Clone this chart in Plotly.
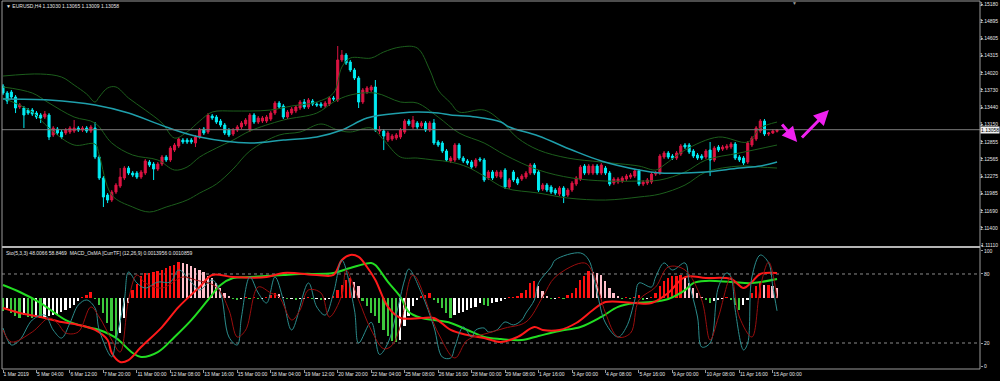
import plotly.graph_objects as go

# ---------------- data ----------------
tick_idx = [0, 8, 16, 24, 32, 40, 48, 56, 64, 72, 80, 88, 96, 104, 112, 120, 128, 136, 144, 152, 160, 168, 176, 184]
tick_text = ["1 Mar 2019", "5 Mar 04:00", "6 Mar 12:00", "7 Mar 20:00", "11 Mar 00:00", "12 Mar 08:00",
             "13 Mar 16:00", "15 Mar 00:00", "18 Mar 04:00", "19 Mar 12:00", "20 Mar 20:00", "22 Mar 04:00",
             "25 Mar 08:00", "26 Mar 16:00", "28 Mar 00:00", "29 Mar 08:00", "1 Apr 16:00", "3 Apr 00:00",
             "4 Apr 08:00", "5 Apr 16:00", "9 Apr 00:00", "10 Apr 08:00", "11 Apr 16:00", "15 Apr 00:00"]
price_ticks = [1.15180, 1.14895, 1.14605, 1.14315, 1.14020, 1.13730, 1.13440, 1.13150,
               1.12855, 1.12565, 1.12275, 1.11985, 1.11690, 1.11400, 1.11110]
sto_ticks = [0, 20, 80, 100]
last_price = 1.13058

open_ = [
1.13795,1.13677,1.13694,1.13610,1.13441,1.13424,1.13390,1.13390,1.13339,1.13306,
1.13272,1.13306,1.12968,1.13069,1.13019,1.13002,1.13019,1.13035,1.13086,1.13052,
1.13086,1.13035,1.13086,1.12596,1.12242,1.11954,1.11870,1.12005,1.12106,1.12242,
1.12410,1.12326,1.12326,1.12258,1.12326,1.12512,1.12478,1.12394,1.12478,1.12596,
1.12546,1.12714,1.12782,1.12883,1.12883,1.12883,1.12833,1.12934,1.13069,1.13019,
1.13289,1.13272,1.13204,1.13137,1.13052,1.12985,1.13052,1.13103,1.13154,1.13052,
1.13306,1.13187,1.13204,1.13204,1.13238,1.13339,1.13508,1.13458,1.13272,1.13339,
1.13373,1.13424,1.13525,1.13441,1.13542,1.13491,1.13491,1.13458,1.13491,1.13593,
1.13559,1.14235,1.14319,1.14201,1.14066,1.13931,1.13525,1.13694,1.13728,1.13779,
1.13035,1.13035,1.12883,1.12900,1.12917,1.12934,1.13019,1.13204,1.13103,1.13171,
1.13120,1.13171,1.13052,1.13171,1.12850,1.12833,1.12698,1.12529,1.12546,1.12799,
1.12579,1.12529,1.12512,1.12444,1.12562,1.12546,1.12242,1.12343,1.12275,1.12258,
1.12377,1.12090,1.12343,1.12225,1.12225,1.12258,1.12326,1.12461,1.12343,1.12056,
1.12123,1.12090,1.12039,1.11971,1.12073,1.11954,1.12039,1.12140,1.12225,1.12444,
1.12326,1.12326,1.12444,1.12326,1.12410,1.12326,1.12157,1.12174,1.12191,1.12225,
1.12258,1.12275,1.12360,1.12140,1.12157,1.12174,1.12309,1.12326,1.12596,1.12664,
1.12613,1.12579,1.12647,1.12799,1.12799,1.12698,1.12630,1.12613,1.12596,1.12714,
1.12546,1.12765,1.12731,1.12748,1.12765,1.12816,1.12596,1.12579,1.12512,1.12799,
1.12900,1.13035,1.13204,1.12985,1.13002,1.13030]
close = [
1.13677,1.13542,1.13610,1.13424,1.13475,1.13306,1.13339,1.13323,1.13272,1.13255,
1.13323,1.12934,1.13086,1.13002,1.12934,1.13052,1.13086,1.13086,1.13052,1.13086,
1.13035,1.13103,1.12596,1.12242,1.11921,1.11870,1.12005,1.12123,1.12258,1.12410,
1.12326,1.12292,1.12258,1.12343,1.12529,1.12461,1.12394,1.12478,1.12596,1.12546,
1.12748,1.12799,1.12900,1.12850,1.12850,1.12850,1.12934,1.13052,1.13002,1.13306,
1.13255,1.13187,1.13137,1.13002,1.12968,1.13052,1.13103,1.13171,1.13221,1.13306,
1.13187,1.13255,1.13255,1.13272,1.13339,1.13508,1.13441,1.13272,1.13356,1.13407,
1.13441,1.13525,1.13441,1.13559,1.13491,1.13475,1.13458,1.13508,1.13593,1.13576,
1.14235,1.14319,1.14184,1.14066,1.13931,1.13525,1.13728,1.13762,1.13779,1.13052,
1.13052,1.12951,1.13002,1.12951,1.12968,1.13052,1.13204,1.13154,1.13221,1.13103,
1.13171,1.13052,1.13171,1.12833,1.12799,1.12698,1.12546,1.12579,1.12799,1.12579,
1.12529,1.12495,1.12427,1.12546,1.12546,1.12208,1.12343,1.12242,1.12343,1.12343,
1.12090,1.12208,1.12208,1.12157,1.12275,1.12326,1.12461,1.12326,1.12039,1.12123,
1.12039,1.12005,1.11988,1.12073,1.11938,1.12039,1.12157,1.12242,1.12427,1.12326,
1.12444,1.12444,1.12326,1.12461,1.12326,1.12140,1.12225,1.12225,1.12242,1.12275,
1.12292,1.12360,1.12140,1.12174,1.12208,1.12309,1.12326,1.12613,1.12664,1.12596,
1.12579,1.12664,1.12782,1.12765,1.12681,1.12613,1.12579,1.12579,1.12698,1.12546,
1.12748,1.12714,1.12765,1.12782,1.12816,1.12579,1.12546,1.12495,1.12833,1.12917,
1.13086,1.13204,1.12985,1.13002,1.13035,1.13058]
high = [
1.13829,1.13711,1.13728,1.13643,1.13508,1.13458,1.13424,1.13424,1.13373,1.13339,
1.13373,1.13339,1.13120,1.13103,1.13052,1.13086,1.13120,1.13221,1.13120,1.13120,
1.13120,1.13137,1.13187,1.12630,1.12275,1.11988,1.12039,1.12157,1.12410,1.12444,
1.12444,1.12360,1.12360,1.12377,1.12562,1.12546,1.12512,1.12512,1.12630,1.12630,
1.12782,1.12833,1.12934,1.12917,1.12917,1.12917,1.12968,1.13086,1.13103,1.13339,
1.13323,1.13306,1.13238,1.13171,1.13086,1.13086,1.13137,1.13204,1.13255,1.13339,
1.13339,1.13289,1.13289,1.13306,1.13373,1.13542,1.13542,1.13491,1.13390,1.13441,
1.13475,1.13559,1.13576,1.13593,1.13576,1.13525,1.13525,1.13542,1.13627,1.13627,
1.14471,1.14403,1.14353,1.14235,1.14099,1.13964,1.13762,1.13795,1.13812,1.13897,
1.13120,1.13069,1.13035,1.12985,1.13002,1.13086,1.13238,1.13238,1.13289,1.13204,
1.13204,1.13204,1.13204,1.13238,1.12883,1.12866,1.12731,1.12613,1.12833,1.12833,
1.12613,1.12562,1.12546,1.12579,1.12596,1.12579,1.12377,1.12377,1.12377,1.12377,
1.12410,1.12242,1.12377,1.12258,1.12309,1.12360,1.12495,1.12495,1.12377,1.12157,
1.12157,1.12123,1.12073,1.12106,1.12106,1.12073,1.12191,1.12275,1.12461,1.12478,
1.12478,1.12478,1.12478,1.12495,1.12444,1.12360,1.12258,1.12258,1.12275,1.12309,
1.12326,1.12394,1.12394,1.12208,1.12242,1.12343,1.12360,1.12647,1.12698,1.12698,
1.12647,1.12698,1.12816,1.12833,1.12833,1.12731,1.12664,1.12647,1.12731,1.12850,
1.12782,1.12799,1.12799,1.12816,1.12850,1.12850,1.12630,1.12613,1.12866,1.12951,
1.13120,1.13238,1.13238,1.13019,1.13069,1.13065]
low = [
1.13643,1.13491,1.13576,1.13339,1.13407,1.13086,1.13306,1.13289,1.13238,1.13171,
1.13238,1.12883,1.12934,1.12968,1.12900,1.12968,1.12985,1.13002,1.13019,1.13019,
1.13002,1.13002,1.12562,1.12208,1.11752,1.11819,1.11836,1.11971,1.12073,1.12208,
1.12292,1.12258,1.12225,1.12225,1.12292,1.12427,1.12208,1.12360,1.12444,1.12512,
1.12512,1.12681,1.12748,1.12816,1.12816,1.12816,1.12765,1.12900,1.12968,1.12985,
1.13221,1.13154,1.13103,1.12968,1.12934,1.12951,1.13019,1.13069,1.13120,1.13019,
1.13154,1.13154,1.13171,1.13171,1.13204,1.13306,1.13407,1.13238,1.13238,1.13306,
1.13339,1.13390,1.13407,1.13407,1.13458,1.13441,1.13424,1.13424,1.13458,1.13542,
1.13525,1.14201,1.14150,1.14032,1.13897,1.13424,1.13491,1.13660,1.13694,1.13019,
1.12985,1.12714,1.12850,1.12866,1.12883,1.12900,1.12985,1.13120,1.13069,1.13069,
1.13086,1.13019,1.13019,1.12799,1.12765,1.12664,1.12512,1.12495,1.12512,1.12546,
1.12495,1.12461,1.12394,1.12410,1.12512,1.12174,1.12208,1.12208,1.12242,1.12225,
1.12056,1.12056,1.12174,1.12123,1.12191,1.12225,1.12292,1.12292,1.12005,1.12022,
1.12005,1.11971,1.11954,1.11938,1.11819,1.11921,1.12005,1.12106,1.12191,1.12292,
1.12292,1.12292,1.12292,1.12292,1.12292,1.12106,1.12123,1.12140,1.12157,1.12191,
1.12225,1.12242,1.12106,1.12106,1.12123,1.12140,1.12275,1.12292,1.12562,1.12562,
1.12546,1.12546,1.12613,1.12731,1.12647,1.12579,1.12546,1.12546,1.12562,1.12275,
1.12512,1.12681,1.12698,1.12714,1.12731,1.12546,1.12512,1.12461,1.12478,1.12765,
1.12866,1.13002,1.12951,1.12951,1.12985,1.13009]

# Bollinger bands and long MA (read at selected bars)
bb_up_idx = [0,9,14,17,20,22,23,25,27,30,34,38,41,44,47,50,55,59,64,69,75,79,81,83,88,91,95,99,102,104,107,109,115,119,123,128,135,143,152,156,158,163,171,178,181,185]
bb_up = [1.13964,1.13998,1.13947,1.13812,1.13660,1.13525,1.13610,1.13762,1.13779,1.13593,1.13390,1.13171,1.12917,1.13019,1.13204,1.13356,1.13373,1.13373,1.13390,1.13458,1.13525,1.13677,1.14116,1.14268,1.14268,1.14370,1.14454,1.14437,1.14066,1.13728,1.13508,1.13356,1.13390,1.13204,1.12917,1.12714,1.12579,1.12512,1.12444,1.12377,1.12461,1.12714,1.12934,1.12850,1.13086,1.13187]
bb_mid_idx = [0,7,11,17,22,26,31,37,41,44,47,51,55,59,67,75,79,83,89,95,99,104,109,115,120,128,136,144,152,157,163,168,176,185]
bb_mid = [1.13779,1.13677,1.13508,1.13272,1.13171,1.12833,1.12630,1.12546,1.12377,1.12427,1.12596,1.12748,1.12883,1.13035,1.13221,1.13339,1.13525,1.13643,1.13677,1.13525,1.13508,1.13272,1.13002,1.12833,1.12630,1.12377,1.12242,1.12191,1.12191,1.12208,1.12343,1.12546,1.12664,1.12799]
bb_lo_idx = [0,7,11,17,22,23,26,31,35,39,44,47,51,55,59,66,71,76,80,83,88,91,95,99,103,107,111,115,120,128,135,144,152,157,163,168,176,181,185]
bb_lo = [1.13593,1.13356,1.13086,1.12799,1.12816,1.12630,1.11954,1.11752,1.11668,1.11752,1.11870,1.11988,1.12140,1.12394,1.12698,1.12968,1.13019,1.13154,1.13052,1.13019,1.13086,1.12883,1.12596,1.12579,1.12546,1.12512,1.12427,1.12275,1.12073,1.11988,1.11904,1.11870,1.11921,1.11971,1.12123,1.12343,1.12444,1.12427,1.12410]
ma_idx = [0,11,22,30,39,47,59,67,75,81,87,95,99,104,107,113,119,121,128,136,143,152,157,163,168,176,181,185]
ma = [1.13576,1.13559,1.13475,1.13339,1.13103,1.12934,1.12833,1.12883,1.12934,1.13052,1.13255,1.13339,1.13356,1.13339,1.13306,1.13272,1.13187,1.13103,1.12951,1.12714,1.12529,1.12377,1.12326,1.12326,1.12343,1.12410,1.12444,1.12512]

# Stochastic (5,3,3)
sto_main_idx = [0,2,4,7,10,12,14,16,18,20, 22,23,26,27,29,30,32,34,37,40, 42,45,47,50,52,54,56,57,59,61,
                63,65,67,69,73,75,77,79,81,84, 85,88,90,92,94,96,97,100,103,105, 107,108,110,112,113,115,116,118,120,122,
                124,125,127,128,131,132,138,140,142,144, 147,149,151,152,155,156,158,160,163,164,
                166,167,169,171,173,174,175,177,178,179, 181,183,184,185]
sto_main = [33.0,18.3,22.6,40.0,44.3,31.3,24.3,37.4,53.0,57.4, 50.4,31.3,8.0,22.6,57.4,81.7,72.2,67.8,73.0,73.0,
            83.5,73.0,66.1,74.8,63.5,25.2,18.3,42.6,77.4,63.5, 54.8,77.4,57.4,31.3,72.2,51.3,44.3,63.5,92.0,48.7,
            20.0,38.0,10.0,20.0,45.0,75.0,84.3,63.5,33.9,7.8, 7.0,16.5,33.9,25.2,31.3,33.0,29.6,31.3,38.3,35.7,
            40.0,46.1,57.4,72.2,86.1,92.2,98.3,92.2,63.5,37.4, 25.2,33.9,57.4,72.2,68.7,77.4,89.6,83.5,89.6,72.2,
            42.6,16.5,20.0,68.7,80.9,77.4,48.7,13.9,20.0,77.4, 96.5,89.6,68.7,48.0066]
sto_sig_idx = [0,2,7,11,13,15,18,21,23,26, 28,30,32,34,38,43,46,51,54,56, 58,61,64,66,69,71,73,76,78,81,
               82,85,88,91,93,95,98,104,108,111, 116,120,125,129,132,139,141,144,147,150,
               152,156,159,163,167,169,171,174,176,179, 181,183,185]
sto_sig = [31.3,20.9,29.6,41.7,37.4,28.7,29.6,51.3,42.6,22.6, 12.2,57.4,79.1,72.2,67.8,77.4,74.8,68.7,48.7,25.2,
           31.3,68.7,63.5,60.0,40.0,48.7,66.1,63.5,42.6,61.7, 83.5,57.4,31.3,15.0,18.0,35.0,79.1,28.7,7.0,22.6,
           28.7,33.0,38.3,60.0,77.4,89.6,80.9,46.1,25.2,28.7, 57.4,68.7,86.1,83.5,57.4,22.6,42.6,77.4,42.6,25.2,
           68.7,90.4,58.8469]

# MACD OsMA (12,26,9)
osma = [
-0.00067,-0.00052,-0.00077,-0.00093,-0.00103,-0.00088,-0.00098,-0.00103,-0.00098,-0.00103,
-0.00098,-0.00093,-0.00088,-0.00083,-0.00072,-0.00062,-0.00052,-0.00036,-0.00015,0.00005,
0.00015,0.00031,-0.00005,-0.00036,-0.00077,-0.00129,-0.00170,-0.00206,-0.00181,-0.00103,
-0.00026,0.00041,0.00072,0.00114,0.00129,0.00129,0.00134,0.00139,0.00144,0.00155,
0.00165,0.00170,0.00186,0.00181,0.00175,0.00165,0.00155,0.00144,0.00134,0.00114,
0.00103,0.00077,0.00052,0.00026,0.00010,-0.00005,-0.00010,-0.00005,0.00003,-0.00005,
0.00005,-0.00005,-0.00003,0.00005,0.00015,0.00026,0.00021,0.00005,-0.00005,-0.00005,
-0.00008,-0.00005,-0.00005,0.00003,-0.00005,-0.00005,-0.00010,-0.00010,-0.00005,0.00010,
0.00041,0.00067,0.00093,0.00103,0.00083,0.00062,-0.00015,-0.00041,-0.00077,-0.00093,
-0.00129,-0.00165,-0.00196,-0.00222,-0.00227,-0.00217,-0.00144,-0.00093,-0.00041,-0.00010,
0.00010,0.00015,0.00026,-0.00010,-0.00026,-0.00052,-0.00077,-0.00103,-0.00088,-0.00077,
-0.00072,-0.00062,-0.00052,-0.00046,-0.00026,-0.00036,-0.00041,-0.00026,-0.00021,-0.00015,
-0.00005,0.00003,0.00003,0.00010,0.00026,0.00041,0.00077,0.00088,0.00062,0.00036,
0.00010,-0.00005,-0.00005,0.00003,-0.00005,0.00015,0.00026,0.00052,0.00093,0.00114,
0.00139,0.00134,0.00129,0.00119,0.00088,0.00052,0.00026,0.00010,-0.00005,0.00005,
-0.00005,0.00003,0.00015,-0.00010,-0.00005,0.00003,0.00026,0.00062,0.00088,0.00103,
0.00114,0.00116,0.00119,0.00103,0.00077,0.00052,0.00026,0.00005,-0.00010,-0.00026,
-0.00015,-0.00010,-0.00005,0.00005,-0.00010,-0.00036,-0.00062,-0.00036,-0.00010,0.00026,
0.00062,0.00077,0.00067,0.00067,0.00062,0.00052]
macd_r_idx = [0,4,9,14,18,22,25,26,28,30,33,38,42,47,50,55,63,67,75,79,81,83,85,87,89,92,95,100,103,107,
              111,115,119,123,127,129,133,137,141,144,151,155,159,163,168,174,177,179,181,185]
macd_r = [-0.00052,-0.00077,-0.00098,-0.00124,-0.00139,-0.00165,-0.00217,-0.00284,-0.00330,-0.00320,
          -0.00253,-0.00150,-0.00046,0.00057,0.00119,0.00108,0.00108,0.00129,0.00119,0.00119,
          0.00196,0.00222,0.00212,0.00160,0.00093,-0.00046,-0.00103,-0.00103,-0.00103,-0.00165,
          -0.00191,-0.00206,-0.00227,-0.00201,-0.00150,-0.00165,-0.00165,-0.00129,-0.00062,-0.00021,
          -0.00026,-0.00026,0.00026,0.00108,0.00103,0.00098,0.00052,0.00083,0.00124,0.00129]
macd_g_idx = [0,4,9,15,20,23,27,31,33,37,41,45,49,52,55,59,67,71,79,83,88,89,92,95,97,100,103,107,111,115,
              119,124,128,133,138,143,147,151,155,159,163,165,168,174,179,185]
macd_g = [0.00067,0.00031,-0.00026,-0.00114,-0.00150,-0.00165,-0.00206,-0.00284,-0.00304,-0.00279,
          -0.00201,-0.00114,-0.00010,0.00067,0.00103,0.00108,0.00119,0.00124,0.00129,0.00155,
          0.00181,0.00170,0.00083,0.00005,-0.00072,-0.00103,-0.00114,-0.00129,-0.00165,-0.00201,
          -0.00212,-0.00217,-0.00196,-0.00170,-0.00150,-0.00098,-0.00046,-0.00026,-0.00021,-0.00005,
          0.00041,0.00077,0.00088,0.00083,0.00077,0.00098]

# ---------------- figure ----------------
bars = list(range(len(close)))
FONT = "Liberation Sans"
TXT = "#e6e6e6"
FS = 5

# histogram colours from the indicator rule
hist_colors = []
prev = 0.0
for v in osma:
    if v >= 0:
        hist_colors.append("#ff1010" if v >= prev else "#ffc0cb")
    else:
        hist_colors.append("#3cc83c" if v < prev else "#ffffff")
    prev = v

fig = go.Figure()
fig.add_trace(go.Scatter(x=bb_up_idx, y=bb_up, mode="lines", line=dict(color="#1c5e1c", width=1, shape="spline"), xaxis="x", yaxis="y", hoverinfo="skip"))
fig.add_trace(go.Scatter(x=bb_mid_idx, y=bb_mid, mode="lines", line=dict(color="#1c5e1c", width=1, shape="spline"), xaxis="x", yaxis="y", hoverinfo="skip"))
fig.add_trace(go.Scatter(x=bb_lo_idx, y=bb_lo, mode="lines", line=dict(color="#1c5e1c", width=1, shape="spline"), xaxis="x", yaxis="y", hoverinfo="skip"))
fig.add_trace(go.Scatter(x=ma_idx, y=ma, mode="lines", line=dict(color="#1f9fab", width=1.5, shape="spline"), xaxis="x", yaxis="y", hoverinfo="skip"))
fig.add_trace(go.Candlestick(
    x=bars, open=open_, high=high, low=low, close=close, xaxis="x", yaxis="y",
    increasing=dict(line=dict(color="#dc1443", width=1), fillcolor="#dc1443"),
    decreasing=dict(line=dict(color="#00ecf4", width=1), fillcolor="#00ecf4"),
    whiskerwidth=0, hoverinfo="skip"))

# lower panel: MACD-OsMA on y2, stochastic on y3
fig.add_trace(go.Bar(x=bars, y=osma, marker=dict(color=hist_colors, line=dict(width=0)), width=0.42, xaxis="x", yaxis="y2", hoverinfo="skip"))
fig.add_trace(go.Scatter(x=macd_g_idx, y=macd_g, mode="lines", line=dict(color="#22dd22", width=2, shape="spline"), xaxis="x", yaxis="y2", hoverinfo="skip"))
fig.add_trace(go.Scatter(x=macd_r_idx, y=macd_r, mode="lines", line=dict(color="#ff1a1a", width=2, shape="spline"), xaxis="x", yaxis="y2", hoverinfo="skip"))
fig.add_trace(go.Scatter(x=sto_main_idx, y=sto_main, mode="lines", line=dict(color="#2b8c8c", width=1, shape="spline"), xaxis="x", yaxis="y3", hoverinfo="skip"))
fig.add_trace(go.Scatter(x=sto_sig_idx, y=sto_sig, mode="lines", line=dict(color="#9a0e0e", width=1, shape="spline"), xaxis="x", yaxis="y3", hoverinfo="skip"))

MAIN_DOM = [0.33424, 1.0]
LOW_DOM = [0.0, 0.3288]
tickfont = dict(family=FONT, size=FS, color=TXT)

fig.update_layout(
    width=1000, height=381,
    margin=dict(l=2, r=20, t=1, b=12, autoexpand=False),
    paper_bgcolor="#000000", plot_bgcolor="#000000",
    showlegend=False, boxgap=0.3, boxgroupgap=0.3, bargap=0,
    xaxis=dict(range=[-0.239, 233.51], anchor="y2", tickvals=tick_idx, ticktext=tick_text,
               tickangle=0, automargin=False,
               ticks="outside", ticklen=3, tickcolor="#9a9a9a", tickfont=tickfont,
               ticklabelposition="outside right", showgrid=False, zeroline=False, showline=False,
               rangeslider=dict(visible=False), fixedrange=True),
    yaxis=dict(domain=MAIN_DOM, range=[1.11094, 1.15231], side="right", anchor="x", automargin=False,
               tickvals=price_ticks, showticklabels=False,
               ticks="outside", ticklen=2, tickcolor="#9a9a9a",
               showgrid=False, zeroline=False, showline=False, fixedrange=True),
    yaxis2=dict(domain=LOW_DOM, range=[-0.003664, 0.00258], anchor="x", visible=False, fixedrange=True),
    yaxis3=dict(overlaying="y2", range=[-2.61, 102.6], side="right", anchor="x", automargin=False,
                tickvals=sto_ticks, ticktext=[str(v) for v in sto_ticks],
                ticks="outside", ticklen=2, tickcolor="#9a9a9a", tickfont=tickfont,
                showgrid=False, zeroline=False, showline=False, fixedrange=True),
)

shapes = [
    dict(type="line", xref="paper", yref="y", x0=0, x1=1, y0=last_price, y1=last_price,
         line=dict(color="#7c7c7c", width=1)),
    dict(type="line", xref="paper", yref="y3", x0=0, x1=1, y0=80, y1=80,
         line=dict(color="#8a8a8a", width=1, dash="dot"), layer="below"),
    dict(type="line", xref="paper", yref="y3", x0=0, x1=1, y0=20, y1=20,
         line=dict(color="#8a8a8a", width=1, dash="dot"), layer="below"),
    dict(type="rect", xref="paper", yref="paper", x0=0, x1=1, y0=LOW_DOM[0], y1=MAIN_DOM[1],
         line=dict(color="#9a9a9a", width=1)),
    dict(type="line", xref="paper", yref="paper", x0=0, x1=1, y0=0.3315, y1=0.3315,
         line=dict(color="#b4b4b4", width=2)),
]
fig.update_layout(shapes=shapes)

RIGHT_X = 1.0 + 19.5 / 978.0   # right edge of the page in paper units
annotations = [
    dict(xref="paper", yref="paper", x=0.002, y=0.9864, xanchor="left", yanchor="middle", showarrow=False,
         text="\u25bc EURUSD,H4 1.13030 1.13065 1.13009 1.13058", font=dict(family=FONT, size=FS, color=TXT)),
    dict(xref="paper", yref="paper", x=0.002, y=0.3152, xanchor="left", yanchor="middle", showarrow=False,
         text="Sto(5,3,3) 48.0066 58.8469  MACD_OsMA [CurrTF] (12,26,9) 0.0013956 0.0010859",
         font=dict(family=FONT, size=FS, color=TXT)),
    dict(xref="paper", yref="paper", x=0.8108, y=0.9946, xanchor="center", yanchor="middle", showarrow=False,
         text="\u25bc", font=dict(family=FONT, size=5, color="#9a9a9a")),
    dict(xref="x", yref="y", x=189.8, y=1.12850, axref="x", ayref="y", ax=185.9, ay=1.13171,
         showarrow=True, arrowhead=2, arrowsize=1, arrowwidth=3, arrowcolor="#f020f0", text=""),
    dict(xref="x", yref="y", x=197.4, y=1.13390, axref="x", ayref="y", ax=190.6, ay=1.12900,
         showarrow=True, arrowhead=2, arrowsize=1, arrowwidth=3, arrowcolor="#f020f0", text=""),
]
# price scale labels (right aligned so that they stay inside the page)
for v in price_ticks:
    annotations.append(dict(xref="paper", yref="y", x=RIGHT_X, y=v, xanchor="right", yanchor="middle",
                            showarrow=False, text="%.5f" % v, font=dict(family=FONT, size=FS, color=TXT)))
annotations.append(dict(xref="paper", yref="y", x=RIGHT_X, y=last_price, xanchor="right", yanchor="middle",
                        showarrow=False, text="1.13058", bgcolor="#f0f0f0", borderpad=0,
                        font=dict(family=FONT, size=FS, color="#000000")))
fig.update_layout(annotations=annotations)

fig.write_html("out.html")
